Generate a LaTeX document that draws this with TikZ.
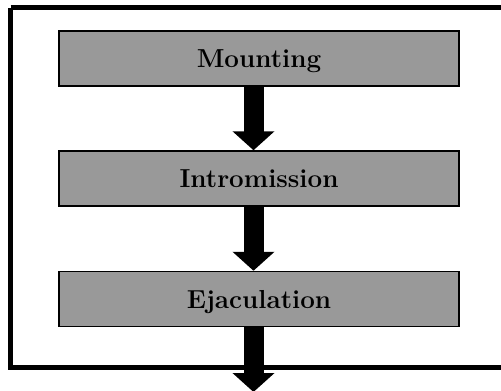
\documentclass[tikz,border=0pt]{standalone}
\usepackage{fontspec}
\setmainfont{Latin Modern Roman}
\usetikzlibrary{arrows.meta}
\begin{document}
\begin{tikzpicture}[x=1pt,y=-1pt,
  stagebox/.style={draw=black,line width=1.5pt,fill=black!40,minimum width=400pt,minimum height=55pt,inner sep=0pt,text height=18pt,text depth=0pt,font=\fontsize{26}{30}\selectfont\bfseries},
  bigarrow/.style={line width=20pt,-{Triangle[width=41pt,length=19pt]}}]
\useasboundingbox (0,0) rectangle (501,391);
\draw[line width=5pt] (10.5,7.5) -- (520,7.5) (10.5,7.5) -- (10.5,367.5) -- (520,367.5);
\node[stagebox] (m) at (259,58.5) {Mounting};
\node[stagebox] (i) at (259,178.5) {Intromission};
\node[stagebox] (e) at (259,299) {Ejaculation};
\coordinate (end) at (253.5,392);
\draw[bigarrow] ([xshift=-5.5pt]m.south) -- ([xshift=-5.5pt]i.north);
\draw[bigarrow] ([xshift=-5.5pt]i.south) -- ([xshift=-5.5pt]e.north);
\draw[bigarrow] ([xshift=-5.5pt]e.south) -- (end);
\end{tikzpicture}
\end{document}
